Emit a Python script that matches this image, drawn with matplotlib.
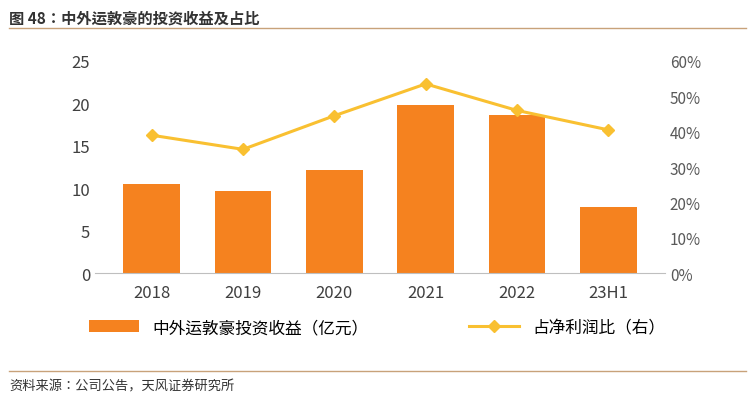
import matplotlib
matplotlib.use("Agg")
import matplotlib.pyplot as plt
from matplotlib.ticker import FuncFormatter

plt.rcParams['font.family'] = 'sans-serif'
plt.rcParams['font.sans-serif'] = ['Noto Sans CJK SC', 'Noto Sans CJK JP', 'Noto Sans CJK TC',
                                   'Noto Sans CJK KR', 'DejaVu Sans']

categories = ["2018", "2019", "2020", "2021", "2022", "23H1"]
income = [10.5, 9.7, 12.1, 19.8, 18.6, 7.8]
share = [39.0, 35.0, 44.5, 53.5, 46.0, 40.5]

fig = plt.figure(figsize=(7.54, 4.02), dpi=100)
ax = fig.add_axes([0.126, 0.318, 0.756, 0.528])
ax2 = ax.twinx()
x = range(len(categories))
b = ax.bar(x, income, width=0.62, color="#F5821F", label="中外运敦豪投资收益（亿元）")
l, = ax2.plot(x, share, color="#F9C031", lw=2.2, marker="D", ms=6, label="占净利润比（右）")
ax.set_ylim(0, 25); ax.set_yticks(range(0, 26, 5))
ax2.set_ylim(0, 60); ax2.set_yticks(range(0, 61, 10))
ax2.yaxis.set_major_formatter(FuncFormatter(lambda v, p: f"{int(v)}%"))
ax.set_xticks(list(x)); ax.set_xticklabels(categories)
ax.set_xlim(-0.62, 5.62)
for a in (ax, ax2):
    for s in a.spines.values(): s.set_visible(False)
    a.tick_params(length=0, colors="#404040", labelsize=12)
ax.spines['bottom'].set_visible(True); ax.spines['bottom'].set_color("#BFBFBF")
ax2.tick_params(labelsize=11, colors="#595959")
ax.tick_params(axis='x', pad=8)
fig.legend([b, l], [b.get_label(), l.get_label()], loc="center", bbox_to_anchor=(0.5, 0.183),
           ncol=2, frameon=False, fontsize=12, columnspacing=6, handlelength=3)
fig.text(0.012, 0.955, "图 48：中外运敦豪的投资收益及占比", fontsize=11, fontweight="bold", color="#333333", va="center")
fig.add_artist(plt.Line2D([0.012, 0.99], [0.928, 0.928], color="#C8A27A", lw=1))
fig.add_artist(plt.Line2D([0.012, 0.99], [0.075, 0.075], color="#C8A27A", lw=1))
fig.text(0.012, 0.037, "资料来源：公司公告，天风证券研究所", fontsize=9.5, color="#333333", va="center")
fig.savefig("out.png", dpi=100)
